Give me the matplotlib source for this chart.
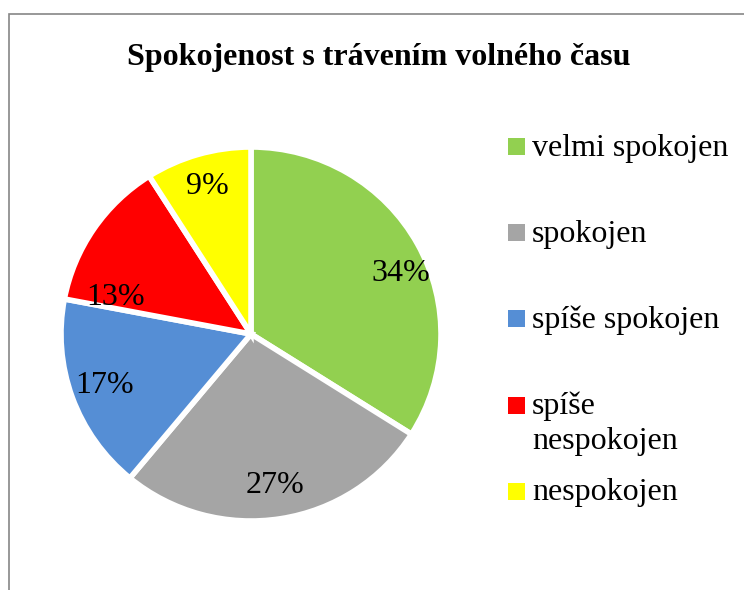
import matplotlib.pyplot as plt
from matplotlib.patches import Rectangle
import numpy as np

# data
categories = ["velmi spokojen", "spokojen", "spíše spokojen", "spíše\nnespokojen", "nespokojen"]
shares = [34, 27, 17, 13, 9]
colors = ["#92D050", "#A5A5A5", "#558ED5", "#FF0000", "#FFFF00"]
title = "Spokojenost s trávením volného času"

W, H = 744, 590
plt.rcParams['font.family'] = ['Liberation Serif', 'DejaVu Serif']

fig = plt.figure(figsize=(W / 100, H / 100), dpi=100)

# pie placed by pixel centre / radius
cx, cy, rx, ry = 251, 334, 190, 187
ax = fig.add_axes([(cx - rx) / W, 1 - (cy + ry) / H, 2 * rx / W, 2 * ry / H])
wedges, texts, autotexts = ax.pie(
    shares, colors=colors, startangle=90, counterclock=False,
    autopct=lambda p: "%d%%" % round(p), pctdistance=0.82,
    wedgeprops=dict(edgecolor="white", linewidth=4),
    textprops=dict(fontsize=23, color="black"),
)
ax.set_xlim(-1, 1)
ax.set_ylim(-1, 1)
ax.set_aspect("auto")
ax.axis("off")

# Excel "best fit" label placement (angle in degrees, distance)
label_moves = {0: (22.4, 0.85), 3: (164.6, 0.74)}
for i, (a, d) in label_moves.items():
    ang = np.deg2rad(a)
    autotexts[i].set_position((d * np.cos(ang), d * np.sin(ang)))

fig.text(379 / W, 1 - 57 / H, title, ha="center", va="center",
         fontsize=23, fontweight="bold")

# legend, laid out by hand like the original
sq_top = [138, 224, 310, 397, 483]
baselines = [156, 242, 328, 414, 500]
for name, col, top, base in zip(categories, colors, sq_top, baselines):
    fig.patches.append(Rectangle((508 / W, 1 - (top + 17) / H), 17 / W, 17 / H,
                                 transform=fig.transFigure, facecolor=col,
                                 edgecolor="none"))
    lines = name.split("\n")
    for i, line in enumerate(lines):
        fig.text(532 / W, 1 - (base + 35 * i) / H, line, ha="left",
                 va="baseline", fontsize=23)

# chart border (bottom and right fall outside the picture)
fig.patches.append(Rectangle((9 / W, -0.1), 1.2, 1.1 - 14.5 / H,
                             transform=fig.transFigure, facecolor="none",
                             edgecolor="#868686", linewidth=1.2))

fig.savefig("out.png", dpi=100)
